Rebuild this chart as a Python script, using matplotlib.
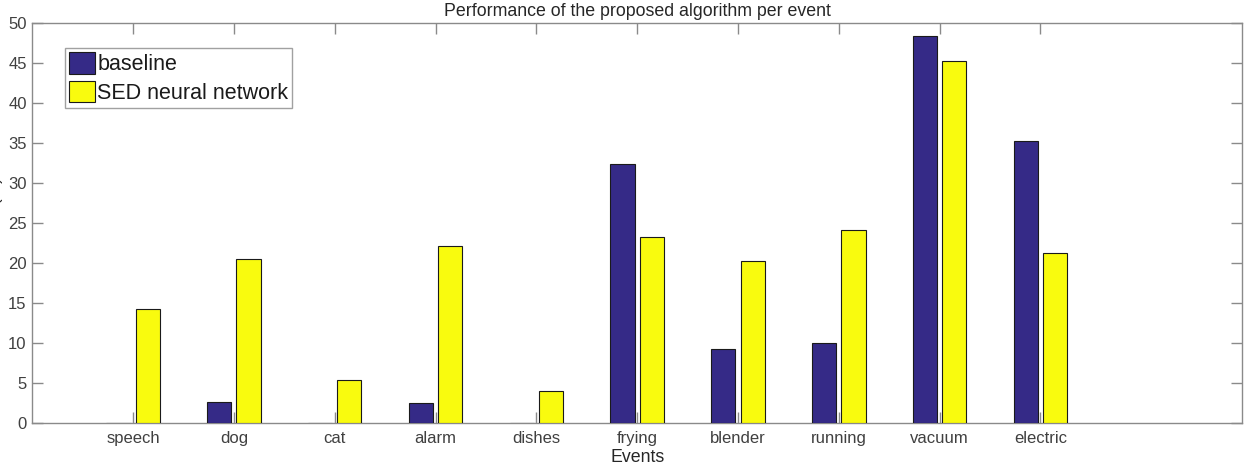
import matplotlib.pyplot as plt
import numpy as np

plt.rcParams['font.family'] = ['Liberation Sans', 'DejaVu Sans']

# data
events = ["speech", "dog", "cat", "alarm", "dishes", "frying",
          "blender", "running", "vacuum", "electric"]
baseline = [0.0, 2.6, 0.0, 2.5, 0.0, 32.4, 9.2, 10.0, 48.4, 35.2]
sed_nn = [14.2, 20.5, 5.4, 22.1, 4.0, 23.3, 20.2, 24.1, 45.3, 21.3]

BLUE = "#352a87"
YELLOW = "#f9fb0e"
AXIS_GRAY = "#8a8a8a"
TEXT_GRAY = "#404040"

x = np.arange(1, len(events) + 1)
width = 0.24
offset = 0.145

fig = plt.figure(figsize=(12.48, 4.74), dpi=100)
ax = fig.add_axes([0.0258, 0.1076, 0.9695, 0.8439])

ax.bar(x - offset, baseline, width, color=BLUE, edgecolor="#1a1a1a",
       linewidth=0.8, label="baseline", zorder=3)
ax.bar(x + offset, sed_nn, width, color=YELLOW, edgecolor="#1a1a1a",
       linewidth=0.8, label="SED neural network", zorder=3)

ax.set_xlim(0, 12)
ax.set_ylim(0, 50)
ax.set_xticks(x)
ax.set_xticklabels(events)
ax.set_yticks(np.arange(0, 51, 5))

for s in ax.spines.values():
    s.set_color(AXIS_GRAY)
    s.set_linewidth(1.0)

ax.tick_params(axis="both", direction="in", length=8, width=1.0,
               color=AXIS_GRAY, labelcolor=TEXT_GRAY, labelsize=12,
               top=True, right=True)
ax.tick_params(axis="x", pad=6)
ax.tick_params(axis="y", pad=4)

ax.set_title("Performance of the proposed algorithm per event",
             fontsize=12.8, color="#262626", pad=5)
ax.set_xlabel("Events", fontsize=12.8, color="#262626", labelpad=2)
# the reference has this label almost entirely cut off at the left edge
ax.set_ylabel("F-score (%)", fontsize=12.5, color="#262626")
ax.yaxis.set_label_coords(-0.0245, 0.5)

leg = ax.legend(loc="upper left", bbox_to_anchor=(0.027, 0.937),
                fontsize=15.5, frameon=True, fancybox=False,
                handlelength=1.2, handleheight=1.15, handletextpad=0.1,
                labelspacing=0.25, borderpad=0.2, borderaxespad=0)
leg.get_frame().set_edgecolor(AXIS_GRAY)
leg.get_frame().set_linewidth(1.0)
for t in leg.get_texts():
    t.set_color("#1a1a1a")

fig.savefig("out.png", dpi=100)
